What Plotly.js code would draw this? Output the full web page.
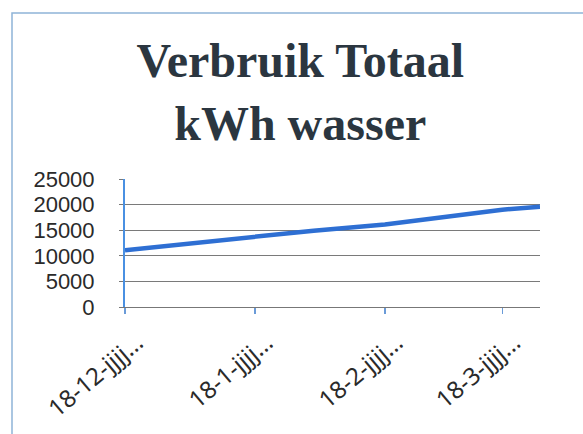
<!DOCTYPE html>
<html>
<head>
<meta charset="utf-8">
<script src="https://cdn.plot.ly/plotly-3.0.1.min.js"></script>
<style>html,body{margin:0;padding:0;background:#fff;}#chart{width:583px;height:434px;}</style>
</head>
<body>
<div id="chart"></div>
<script>
// Data
const dates = ['2017-12-18','2018-01-01','2018-01-18','2018-02-01','2018-02-18','2018-03-01','2018-03-18','2018-03-27'];
const verbruik = [11100, 12300, 13850, 14900, 16100, 17300, 19000, 19600];
const tickDates = ['2017-12-18','2018-01-18','2018-02-18','2018-03-18'];
const tickLabels = ['18-12-jjjj…','18-1-jjjj…','18-2-jjjj…','18-3-jjjj…'];
const titleText = 'Verbruik Totaal<br>kWh wasser';

const W = 583, H = 434;
const M = {l:125, r:43, t:179, b:127, pad:0};
const plotW = W - M.l - M.r, plotH = H - M.t - M.b;
// outer chart-area border (pixel coords converted to paper units)
const bx0 = (12 - M.l)/plotW, bx1 = (W + 10 - M.l)/plotW;
const by1 = (H - M.b - 13)/plotH, by0 = (H - M.b - (H + 10))/plotH;

const trace = {
  x: dates, y: verbruik, type:'scatter', mode:'lines',
  line:{color:'#2e6fd3', width:4.5}, hoverinfo:'x+y', showlegend:false
};

const layout = {
  width:W, height:H, margin:M,
  paper_bgcolor:'#ffffff', plot_bgcolor:'#ffffff',
  font:{family:'Liberation Sans, sans-serif', color:'#2a2a2a'},
  title:{text:titleText, x:0.515, xanchor:'center', y:0.822, yanchor:'top', yref:'container',
         font:{family:'Liberation Serif, serif', size:48, color:'#2b3640', weight:'bold'}},
  xaxis:{type:'date', range:[dates[0], dates[dates.length-1]],
         tickvals:tickDates, ticktext:tickLabels, tickangle:-40,
         showgrid:false, zeroline:false, showline:true, linecolor:'#777', linewidth:1,
         ticks:'outside', ticklen:6, tickcolor:'#6a9bd8', tickwidth:1.5,
         ticklabelshift:12, ticklabelstandoff:5,
         tickfont:{family:'Noto Sans, sans-serif', size:24, color:'#2a2a2a'}},
  yaxis:{range:[0,25000], dtick:5000, tick0:0, tickformat:'d',
         showgrid:true, gridcolor:'#7a7a7a', gridwidth:1, zeroline:false,
         showline:true, linecolor:'#4a90e2', linewidth:2,
         ticks:'outside', ticklen:4, tickcolor:'#777',
         ticklabelstandoff:20,
         tickfont:{family:'Liberation Sans, sans-serif', size:22, color:'#2a2a2a'}},
  shapes:[{type:'rect', xref:'paper', yref:'paper', x0:bx0, x1:bx1, y0:by0, y1:by1,
           line:{color:'#8fb4d8', width:1.5}, fillcolor:'rgba(0,0,0,0)', layer:'below'}]
};

Plotly.newPlot('chart', [trace], layout, {staticPlot:true, displayModeBar:false});
</script>
</body>
</html>
